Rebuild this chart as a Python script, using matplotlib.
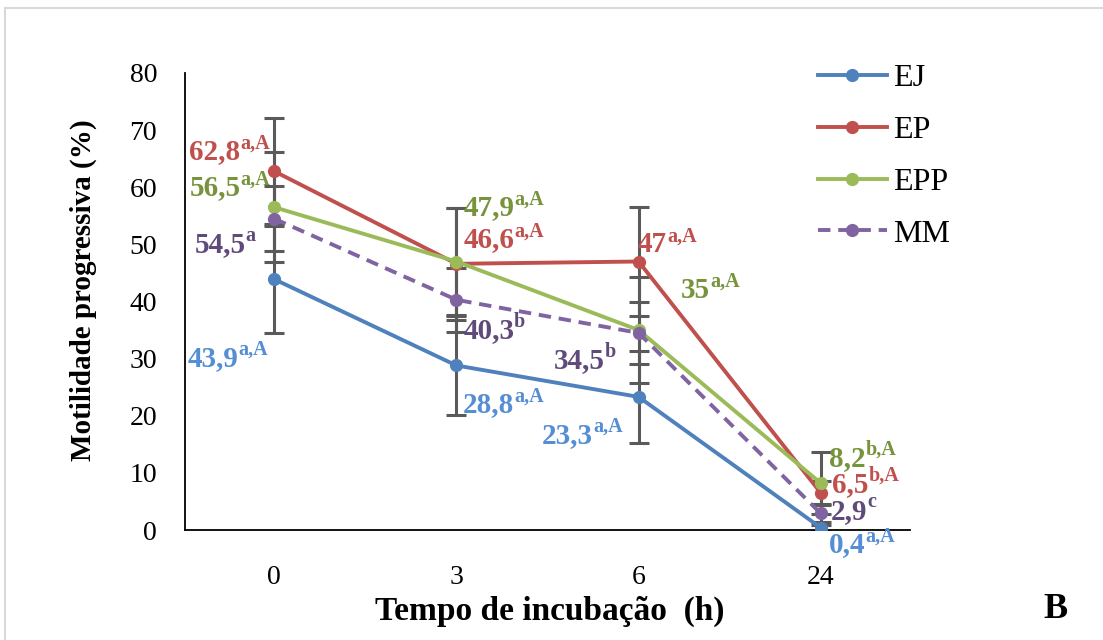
import numpy as np
import matplotlib
matplotlib.use("Agg")
import matplotlib.pyplot as plt
from matplotlib.patches import Rectangle

plt.rcParams['font.family'] = ['Liberation Serif', 'DejaVu Serif']

# data
tempos = ["0", "3", "6", "24"]
series = ["EJ", "EP", "EPP", "MM"]
ej = [43.9, 28.8, 23.3, 0.4]
ep = [62.8, 46.6, 47.0, 6.5]
epp = [56.5, 47.0, 35.0, 8.2]
mm = [54.5, 40.3, 34.5, 2.9]
ej_err = [9.4, 8.7, 8.1, 0.5]
ep_err = [9.3, 9.8, 9.6, 2.0]
epp_err = [9.6, 9.4, 9.3, 5.4]
mm_err = [5.7, 5.6, 5.4, 1.5]

# label texts: (number, superscript)
ej_lab = [("43,9", "a,A"), ("28,8", "a,A"), ("23,3", "a,A"), ("0,4", "a,A")]
ep_lab = [("62,8", "a,A"), ("46,6", "a,A"), ("47", "a,A"), ("6,5", "b,A")]
epp_lab = [("56,5", "a,A"), ("47,9", "a,A"), ("35", "a,A"), ("8,2", "b,A")]
mm_lab = [("54,5", "a"), ("40,3", "b"), ("34,5", "b"), ("2,9", "c")]

# label anchor positions (left edge, vertical centre) in data coords
ej_pos = [(-0.477, 30.1), (1.037, 21.9), (1.470, 16.6), (3.044, -2.6)]
ep_pos = [(-0.466, 66.2), (1.037, 50.8), (1.997, 49.9), (3.061, 8.0)]
epp_pos = [(-0.466, 59.9), (1.037, 56.4), (2.233, 42.0), (3.044, 12.5)]
mm_pos = [(-0.439, 49.9), (1.037, 34.9), (1.536, 29.6), (3.055, 3.3)]

line_cols = ["#4F81BD", "#C0504D", "#9BBB59", "#8064A2"]
text_cols = ["#558ED5", "#C0504D", "#77933C", "#604A7B"]

fig = plt.figure(figsize=(11.03, 6.40), dpi=100)
fig.patches.append(Rectangle((5/1103, -0.1), 1.2, 1 - 8/640 + 0.1, transform=fig.transFigure,
                             fill=False, edgecolor="#d9d9d9", linewidth=1.5))
ax = fig.add_axes([185/1103, 1 - 530/640, 725/1103, 457/640])

x = np.arange(len(tempos))
vals = [ej, ep, epp, mm]
errs = [ej_err, ep_err, epp_err, mm_err]
labs = [ej_lab, ep_lab, epp_lab, mm_lab]
poss = [ej_pos, ep_pos, epp_pos, mm_pos]

for v, e in zip(vals, errs):
    ax.errorbar(x, v, yerr=e, fmt="none", ecolor="#5a5a5a", elinewidth=2.2, capsize=7, capthick=2.2, zorder=2)

for i, (name, v) in enumerate(zip(series, vals)):
    ls = (0, (3.2, 2.0)) if name == "MM" else "-"
    ax.plot(x, v, color=line_cols[i], lw=2.8, ls=ls, marker="o", ms=8.5, label=name, zorder=3)

for i in range(4):
    for (num, sup), (px, py) in zip(labs[i], poss[i]):
        t = ax.text(px, py, num, color=text_cols[i], fontsize=21, fontweight="bold",
                    ha="left", va="center", zorder=5)
        ax.annotate(sup, xy=(1.0, 0.45), xycoords=t, color=text_cols[i], fontsize=14.5,
                    fontweight="bold", ha="left", va="bottom", zorder=5)

ax.set_xlim(-0.49, 3.49)
ax.set_ylim(0, 80)
ax.set_yticks(range(0, 81, 10))
ax.set_xticks(x)
ax.set_xticklabels(tempos)
ax.tick_params(axis="both", length=0, labelsize=20)
ax.tick_params(axis="y", pad=20)
ax.tick_params(axis="x", pad=25)
for s in ["top", "right"]:
    ax.spines[s].set_visible(False)
for s in ["left", "bottom"]:
    ax.spines[s].set_linewidth(1.3)

fig.text(83/1103, 1 - 290/640, "Motilidade progressiva (%)", rotation=90, fontsize=21,
         fontweight="bold", ha="center", va="center")
fig.text(550/1103, 1 - 611/640, "Tempo de incubação  (h)", fontsize=24,
         fontweight="bold", ha="center", va="center")
fig.text(1055/1103, 1 - 610/640, "B", fontsize=26, fontweight="bold", ha="center", va="center")

fig.legend(loc="upper left", bbox_to_anchor=(818/1103, 1 - 64/640), frameon=False,
           fontsize=23, handlelength=2.15, handletextpad=0.2, labelspacing=0.7,
           borderaxespad=0, borderpad=0)

fig.savefig("out.png", dpi=100)
